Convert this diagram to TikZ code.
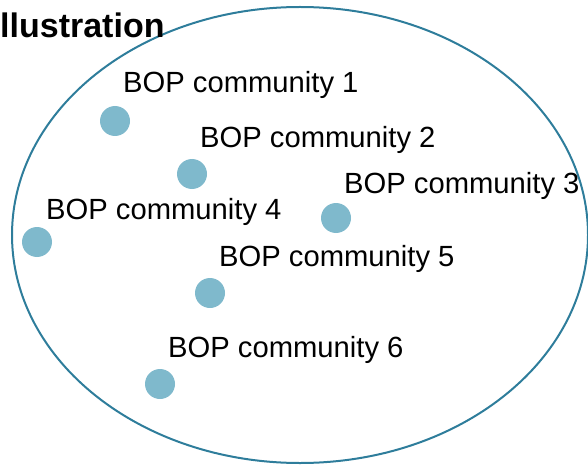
\documentclass[tikz,border=0pt]{standalone}
\usepackage{fontspec}
\setmainfont{Liberation Sans}
\definecolor{ringblue}{RGB}{46,125,155}
\definecolor{dotblue}{RGB}{127,185,204}

\begin{document}
\begin{tikzpicture}%
[x=1pt, y=-1pt,%
dots/.style={fill=dotblue, inner sep=0pt, minimum size=30pt, shape=circle},%
ring/.style={draw=ringblue, line width=2pt},%
names/.style={anchor=base west, inner sep=0pt, font=\fontsize{29.2}{34}\selectfont},%
heading/.style={anchor=base west, inner sep=0pt, font=\fontsize{34}{40}\selectfont\bfseries}]

\useasboundingbox (0,0) rectangle (588,465);

\draw[ring] (300,235) ellipse [x radius=288, y radius=228];

\node[heading] (title) at (0,38) {llustration};

\node[dots] (c1) at (115,121) {};
\node[dots] (c2) at (192,174) {};
\node[dots] (c3) at (336,218) {};
\node[dots] (c4) at (37,242) {};
\node[dots] (c5) at (210,293) {};
\node[dots] (c6) at (160,384) {};

\node[names] (n1) at (123,93) {BOP community 1};
\node[names] (n2) at (200,147) {BOP community 2};
\node[names] (n3) at (344,193) {BOP community 3};
\node[names] (n4) at (46,219) {BOP community 4};
\node[names] (n5) at (219,266) {BOP community 5};
\node[names] (n6) at (168,357) {BOP community 6};
\end{tikzpicture}
\end{document}
